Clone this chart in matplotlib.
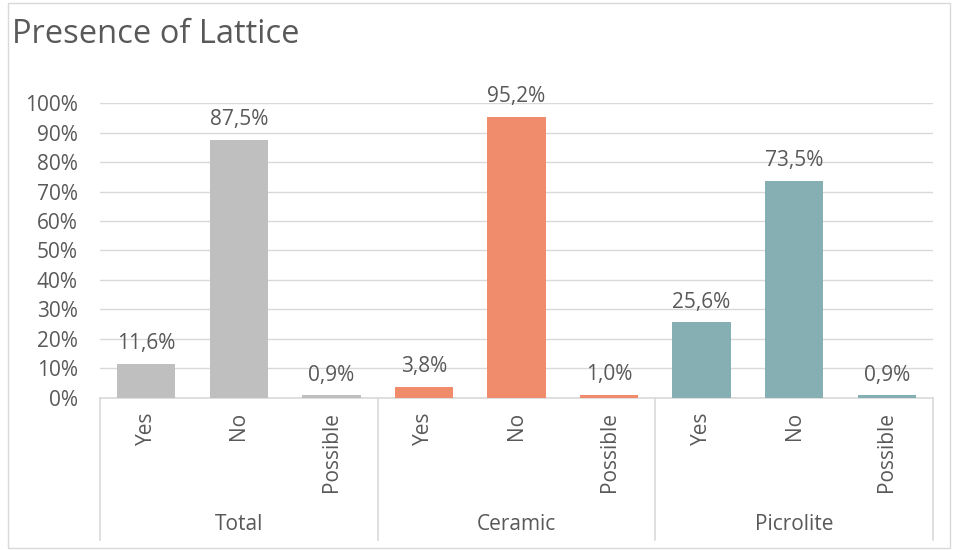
import matplotlib
matplotlib.use("Agg")
import matplotlib.pyplot as plt
import matplotlib.patches as patches
import matplotlib.transforms as mtransforms
import numpy as np

# data
groups = ["Total", "Ceramic", "Picrolite"]
answers = ["Yes", "No", "Possible"]
total_vals = [11.6, 87.5, 0.9]
ceramic_vals = [3.8, 95.2, 1.0]
picrolite_vals = [25.6, 73.5, 0.9]
group_colors = ["#BFBFBF", "#F08C6B", "#86AFB3"]
y_ticks = [0, 10, 20, 30, 40, 50, 60, 70, 80, 90, 100]

TEXT = "#595959"
GRID = "#D9D9D9"
FS = 15
plt.rcParams["font.family"] = ["Open Sans", "DejaVu Sans"]

fig = plt.figure(figsize=(9.54, 5.5), dpi=100)
ax = fig.add_axes([0.1048, 0.2764, 0.8732, 0.5363])

values = [total_vals, ceramic_vals, picrolite_vals]
x = 0
xs, labels = [], []
for g, vals in enumerate(values):
    for a, v in enumerate(vals):
        ax.bar(x, v, width=0.63, color=group_colors[g], zorder=3)
        ax.annotate(f"{v:.1f}%".replace(".", ","), (x, v), xytext=(0, 7),
                    textcoords="offset points", ha="center", va="bottom",
                    fontsize=FS, color=TEXT)
        xs.append(x)
        labels.append(answers[a])
        x += 1

ax.set_xlim(-0.5, x - 0.5)
ax.set_ylim(0, 100)
ax.set_yticks(y_ticks)
ax.set_yticklabels([f"{t}%" for t in y_ticks])
ax.yaxis.grid(True, color=GRID, linewidth=1, zorder=0)
ax.tick_params(axis="y", length=0, pad=16, labelsize=FS, labelcolor=TEXT)
ax.set_xticks(xs)
ax.set_xticklabels(labels, rotation=90, va="top")
ax.tick_params(axis="x", length=0, pad=10, labelsize=FS, labelcolor=TEXT)
for s in ["top", "right", "left"]:
    ax.spines[s].set_visible(False)
ax.spines["bottom"].set_color(GRID)
ax.spines["bottom"].set_linewidth(1.2)

# group separators and group labels below the axis
trans = mtransforms.blended_transform_factory(ax.transData, ax.transAxes)
for b in range(len(groups) + 1):
    xb = b * 3 - 0.5
    ax.plot([xb, xb], [0, -0.48], transform=trans, color=GRID,
            linewidth=1.2, clip_on=False)
for g, name in enumerate(groups):
    ax.text(g * 3 + 1, -0.43, name, transform=trans, ha="center",
            va="center", fontsize=FS, color=TEXT)

fig.text(0.013, 0.938, "Presence of Lattice", fontsize=23.5, color=TEXT,
         ha="left", va="center")

fig.patches.append(patches.Rectangle((0.008, 0.004), 0.988, 0.99,
                                     transform=fig.transFigure, fill=False,
                                     edgecolor=GRID, linewidth=1))

fig.savefig("out.png", dpi=100)
